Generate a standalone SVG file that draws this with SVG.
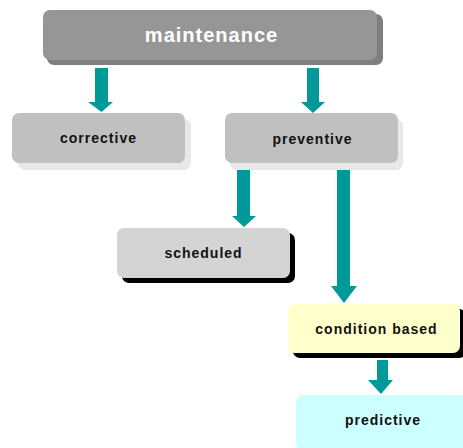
<svg xmlns="http://www.w3.org/2000/svg" width="463" height="448" viewBox="0 0 463 448">
<style>
text{font-family:"Liberation Sans",Arial,sans-serif;font-weight:bold;text-anchor:middle;fill:#111;font-size:14px;letter-spacing:1px}
.arr{fill:#009999}
</style>
<rect width="463" height="448" fill="#fff"/>
<g id="connectors">
<polygon class="arr" points="95,68 108,68 108,102 113,102 101.5,112 88,102 95,102"/>
<polygon class="arr" points="307,68 319,68 319,102 325,102 313,113 301,102 307,102"/>
<polygon class="arr" points="237,170 250,170 250,216 256,216 244,227 232,216 237,216"/>
<polygon class="arr" points="337,167 350,167 350,286 357,286 344,303 331,286 337,286"/>
<polygon class="arr" points="377,360 388,360 388,380 393,380 381,394 368,380 377,380"/>
</g>
<g id="maintenance">
<rect x="47" y="14" width="336" height="51" rx="7" fill="#7f7f7f"/>
<rect x="43" y="10" width="334" height="50" rx="7" fill="#969696"/>
<text x="211.5" y="42" style="fill:#fff;font-size:20px">maintenance</text>
</g>
<g id="corrective">
<rect x="18" y="119" width="173" height="51" rx="7" fill="#e8e8e8"/>
<rect x="12" y="113" width="173" height="50" rx="7" fill="#c0c0c0"/>
<text x="98.5" y="143">corrective</text>
</g>
<g id="preventive">
<rect x="230" y="119" width="173" height="51" rx="7" fill="#e8e8e8"/>
<rect x="225" y="113" width="173" height="50" rx="7" fill="#c0c0c0"/>
<text x="312.5" y="144">preventive</text>
</g>
<g id="scheduled">
<rect x="122" y="233" width="173" height="50" rx="7" fill="#000"/>
<rect x="117" y="228" width="173" height="50" rx="7" fill="#d4d4d4"/>
<text x="203.5" y="258">scheduled</text>
</g>
<g id="condition_based">
<rect x="293" y="309" width="173" height="49" rx="7" fill="#000"/>
<rect x="288" y="304" width="172" height="49" rx="7" fill="#ffffcc"/>
<text x="376.5" y="334">condition based</text>
</g>
<g id="predictive">
<rect x="301" y="400" width="173" height="55" rx="7" fill="#000"/>
<rect x="296" y="395" width="172" height="55" rx="7" fill="#ccffff"/>
<text x="383" y="425">predictive</text>
</g>
</svg>
